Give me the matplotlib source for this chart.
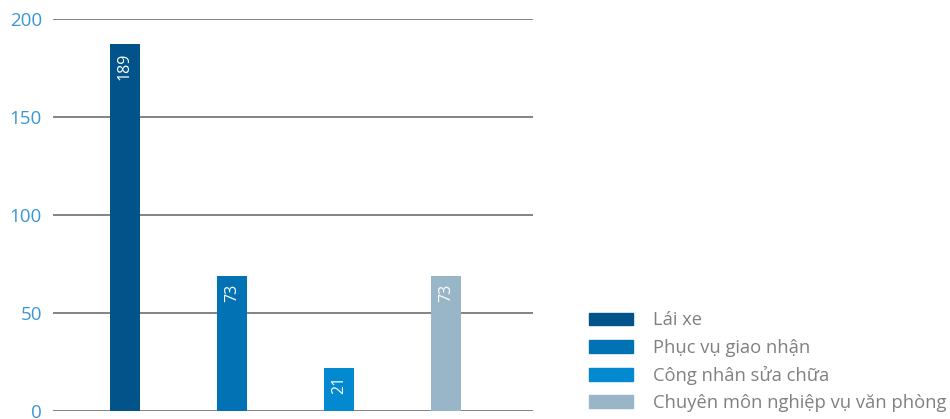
import matplotlib.pyplot as plt
from matplotlib.patches import Patch

# Data
categories = ['Lái xe', 'Phục vụ giao nhận', 'Công nhân sửa chữa', 'Chuyên môn nghiệp vụ văn phòng']
heights = [187, 69, 22, 69]          # bar heights as drawn
value_labels = ['189', '73', '21', '73']  # printed values
colors = ['#02538a', '#0272b4', '#0289cf', '#99b6c8']
yticks = [0, 50, 100, 150, 200]

plt.rcParams['font.family'] = ['Open Sans', 'DejaVu Sans']

fig = plt.figure(figsize=(9.5, 4.19), dpi=100)
ax = fig.add_axes([53 / 950, 8 / 419, 480 / 950, 392 / 419])

x = range(len(categories))
bars = ax.bar(x, heights, width=0.28, color=colors, zorder=3)

for b, lab in zip(bars, value_labels):
    ax.annotate(lab, (b.get_x() + b.get_width() / 2, b.get_height()),
                xytext=(0, -6), textcoords='offset points',
                ha='center', va='top', rotation=90, color='white',
                fontsize=11.5, zorder=4)

ax.set_xlim(-0.673, 3.813)
ax.set_ylim(0, 200)
ax.set_yticks(yticks)
ax.set_xticks([])
ax.yaxis.grid(True, color='#7a7a7a', linewidth=1.3, zorder=0)
ax.tick_params(axis='y', length=0, pad=8, labelsize=13.5, labelcolor='#3a97d4')
for s in ax.spines.values():
    s.set_visible(False)

handles = [Patch(color=c) for c in colors]
leg = fig.legend(handles, categories, loc='lower left',
                 bbox_to_anchor=(589 / 950, 7 / 419), frameon=False,
                 fontsize=13.2, handlelength=2.4, handleheight=0.7,
                 handletextpad=1.1, labelspacing=0.5, borderpad=0,
                 borderaxespad=0)
for t in leg.get_texts():
    t.set_color('#808080')

fig.savefig('out.png', dpi=100)
